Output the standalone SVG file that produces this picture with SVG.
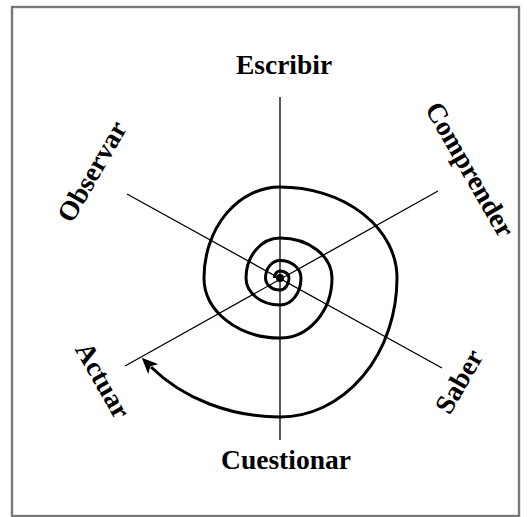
<svg xmlns="http://www.w3.org/2000/svg" width="527" height="517" viewBox="0 0 527 517">
<style>
.lbl{font-family:"Liberation Serif","Times New Roman",serif;font-weight:bold;font-size:27.5px;fill:#000;text-anchor:middle}
.ax{stroke:#000;stroke-width:1.3;fill:none}
.sp{stroke:#000;stroke-width:3;fill:none}
</style>
<defs>
<marker id="ah" markerWidth="18" markerHeight="14" refX="3" refY="7" orient="auto" markerUnits="userSpaceOnUse"><path d="M0,0 L16,7 L0,14 L4,7 z" fill="#000"/></marker>
</defs>
<rect width="527" height="517" fill="#fff"/>
<rect x="12" y="7" width="507" height="509" fill="none" stroke="#e4e4e4" stroke-width="4"/>
<rect x="12" y="7" width="507" height="509" fill="none" stroke="#555" stroke-width="1.5"/>
<g id="connectors">
<line class="ax" x1="280" y1="97" x2="280" y2="440"/>
<line class="ax" x1="127" y1="194" x2="442" y2="368"/>
<line class="ax" x1="438" y1="191" x2="125" y2="366"/>
<path class="sp" marker-end="url(#ah)" d="M274.5 278 A5.5 7 0 0 1 280 271 A9 7 0 0 1 289 278 A9 12 0 0 1 280 290 A14.5 12 0 0 1 265.5 278 A14.5 17.5 0 0 1 280 260.5 A21 17.5 0 0 1 301 278 A21 27 0 0 1 280 305 A34 27 0 0 1 246 278 A34 40 0 0 1 280 238 A52 40 0 0 1 332 278 A52 60 0 0 1 280 338 A76 60 0 0 1 204 278 A76 91 0 0 1 280 187 A117 91 0 0 1 397 278 A117 139 0 0 1 280 417 A169 139 0 0 1 151 367"/>
<circle cx="280" cy="278" r="4" fill="#000"/>
</g>
<g id="escribir"><text class="lbl" x="284" y="74">Escribir</text></g>
<g id="cuestionar"><text class="lbl" x="286" y="469">Cuestionar</text></g>
<g id="observar"><text class="lbl" transform="translate(93,172) rotate(-60)" y="8">Observar</text></g>
<g id="comprender"><text class="lbl" transform="translate(469,170) rotate(60)" y="8">Comprender</text></g>
<g id="actuar"><text class="lbl" transform="translate(102,381) rotate(60)" y="8">Actuar</text></g>
<g id="saber"><text class="lbl" transform="translate(460,382) rotate(-60)" y="8">Saber</text></g>
</svg>
